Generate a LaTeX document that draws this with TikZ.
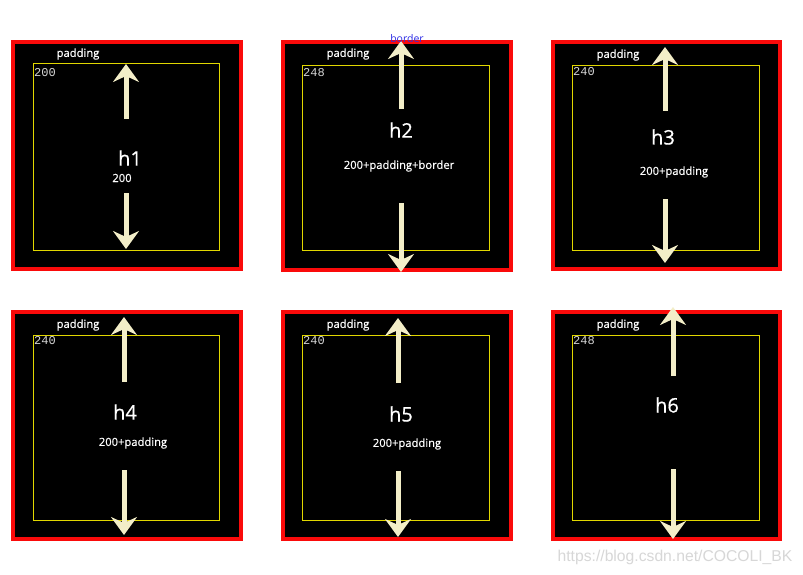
\documentclass[tikz,border=0pt]{standalone}
\usepackage{fontspec}
\setmainfont{Open Sans}
\newfontfamily\semib[FakeBold=0.6]{Open Sans}
\newfontfamily\monof{Liberation Mono}
\newfontfamily\wmf{Liberation Sans}
\usetikzlibrary{arrows.meta}
\definecolor{redb}{RGB}{250,10,10}
\definecolor{yell}{RGB}{225,215,0}
\definecolor{cream}{RGB}{243,238,200}
\definecolor{lgray}{RGB}{215,215,215}
\definecolor{bordblue}{RGB}{45,45,230}
\definecolor{wm}{RGB}{215,215,215}
\tikzset{
  outerbox/.style={draw=redb, line width=4pt, fill=black},
  innerbox/.style={draw=yell, line width=0.9pt},
  arr/.style={draw=cream, line width=5pt, -{Stealth[width=26pt,length=18pt,inset=6pt]}},
  padlbl/.style={text=white, font=\semib\fontsize{11.2}{12}\selectfont, inner sep=0pt},
  numlbl/.style={text=lgray, font=\monof\fontsize{12}{12}\selectfont, inner sep=0pt, anchor=west},
  hlbl/.style={text=white, font=\semib\fontsize{20}{22}\selectfont, inner sep=0pt},
  sublbl/.style={text=white, font=\semib\fontsize{11.2}{12}\selectfont, inner sep=0pt},
}
\begin{document}
\begin{tikzpicture}[x=1pt,y=-1pt]
\useasboundingbox (0,0) rectangle (803,575);
\fill[white] (0,0) rectangle (803,575);
% ---------- box 1 ----------
\node[outerbox, minimum width=228pt, minimum height=227pt, inner sep=0pt] (b1) at (127,155.5) {};
\node[innerbox, minimum width=186pt, minimum height=187pt, inner sep=0pt] (y1) at (126,156.5) {};
\node[padlbl] (p1) at (78,54) {padding};
\node[numlbl] (n1) at (34,73) {200};
\coordinate (u1s) at (126,119); \coordinate (u1e) at (126,64);
\coordinate (d1s) at (126,193); \coordinate (d1e) at (126,249);
\draw[arr] (u1s) -- (u1e);
\draw[arr] (d1s) -- (d1e);
\node[hlbl] (h1) at (130,158) {h1};
\node[sublbl] (s1) at (122,178) {200};
% ---------- box 2 ----------
\node[outerbox, minimum width=228pt, minimum height=228pt, inner sep=0pt] (b2) at (397,156) {};
\node[innerbox, minimum width=187pt, minimum height=185pt, inner sep=0pt] (y2) at (395.5,157.5) {};
\node[padlbl] (p2) at (348,54) {padding};
\node[numlbl] (n2) at (303,73) {248};
\coordinate (u2s) at (401,109); \coordinate (u2e) at (401,41);
\coordinate (d2s) at (401,203); \coordinate (d2e) at (401,272);
\draw[arr] (u2s) -- (u2e);
\draw[arr] (d2s) -- (d2e);
\node[text=bordblue, font=\fontsize{10.5}{11}\selectfont, inner sep=0pt] (bd) at (407,39) {border};
\node[hlbl] (h2) at (401,130) {h2};
\node[sublbl] (s2) at (399,166) {200+padding+border};
% ---------- box 3 ----------
\node[outerbox, minimum width=227pt, minimum height=227pt, inner sep=0pt] (b3) at (666.5,155.5) {};
\node[innerbox, minimum width=187pt, minimum height=185pt, inner sep=0pt] (y3) at (665.5,157.5) {};
\node[padlbl] (p3) at (618,55) {padding};
\node[numlbl] (n3) at (573,72) {240};
\coordinate (u3s) at (665,111); \coordinate (u3e) at (665,47);
\coordinate (d3s) at (665,199); \coordinate (d3e) at (665,263);
\draw[arr] (u3s) -- (u3e);
\draw[arr] (d3s) -- (d3e);
\node[hlbl] (h3) at (663,137) {h3};
\node[sublbl] (s3) at (674,172) {200+padding};
% ---------- box 4 ----------
\node[outerbox, minimum width=228pt, minimum height=227pt, inner sep=0pt] (b4) at (127,425.5) {};
\node[innerbox, minimum width=186pt, minimum height=185pt, inner sep=0pt] (y4) at (126,427.5) {};
\node[padlbl] (p4) at (78,325) {padding};
\node[numlbl] (n4) at (34,341) {240};
\coordinate (u4s) at (124,382); \coordinate (u4e) at (124,317);
\coordinate (d4s) at (124,470); \coordinate (d4e) at (124,535);
\draw[arr] (u4s) -- (u4e);
\draw[arr] (d4s) -- (d4e);
\node[hlbl] (h4) at (125,412) {h4};
\node[sublbl] (s4) at (133,443) {200+padding};
% ---------- box 5 ----------
\node[outerbox, minimum width=228pt, minimum height=227pt, inner sep=0pt] (b5) at (397,425.5) {};
\node[innerbox, minimum width=187pt, minimum height=185pt, inner sep=0pt] (y5) at (395.5,427.5) {};
\node[padlbl] (p5) at (348,325) {padding};
\node[numlbl] (n5) at (303,341) {240};
\coordinate (u5s) at (398,383); \coordinate (u5e) at (398,318);
\coordinate (d5s) at (398,471); \coordinate (d5e) at (398,537);
\draw[arr] (u5s) -- (u5e);
\draw[arr] (d5s) -- (d5e);
\node[hlbl] (h5) at (401,414) {h5};
\node[sublbl] (s5) at (407,444) {200+padding};
% ---------- box 6 ----------
\node[outerbox, minimum width=227pt, minimum height=227pt, inner sep=0pt] (b6) at (666.5,425.5) {};
\node[innerbox, minimum width=187pt, minimum height=185pt, inner sep=0pt] (y6) at (665.5,427.5) {};
\node[padlbl] (p6) at (618,325) {padding};
\node[numlbl] (n6) at (573,341) {248};
\coordinate (u6s) at (673,376); \coordinate (u6e) at (673,307);
\coordinate (d6s) at (673,469); \coordinate (d6e) at (673,539);
\draw[arr] (u6s) -- (u6e);
\draw[arr] (d6s) -- (d6e);
\node[hlbl] (h6) at (667,405) {h6};
% ---------- watermark ----------
\node[text=wm, font=\wmf\fontsize{15.7}{16}\selectfont, inner sep=0pt] (wmk) at (675,557) {https://blog.csdn.net/COCOLI\_BK};
\end{tikzpicture}
\end{document}
